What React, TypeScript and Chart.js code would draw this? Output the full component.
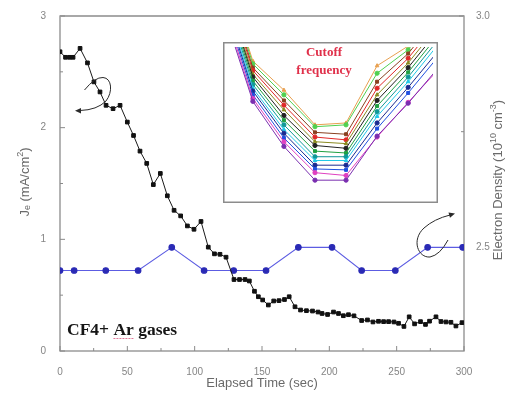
import React, { useEffect, useRef } from 'react';
import { Chart, registerables } from 'chart.js';

Chart.register(...registerables);

// ---- Main chart data ----
const elapsedTimeJ = [0, 4.1, 7.1, 9.7, 14.9, 20.4, 25.2, 29.7, 34.2, 39.4, 44.6, 50.0, 54.6, 59.4, 64.4, 69.3, 74.5, 79.7, 84.7, 89.6, 94.6, 99.5, 104.7, 110.1, 114.7, 118.8, 123.3, 129.2, 133.3, 137.4, 140.6, 144.4, 147.3, 150.5, 154.7, 158.7, 162.6, 166.7, 170.2, 174.5, 178.6, 183.0, 187.5, 191.6, 194.6, 198.7, 203.1, 206.8, 210.4, 214.2, 218.3, 224.0, 228.3, 232.4, 236.5, 240.3, 244.0, 248.0, 251.4, 255.4, 259.3, 263.3, 267.7, 271.4, 274.4, 279.2, 282.9, 286.6, 290.3, 294.0, 298.5];
const currentDensityJe = [2.68, 2.63, 2.63, 2.63, 2.71, 2.58, 2.41, 2.32, 2.20, 2.17, 2.20, 2.05, 1.93, 1.79, 1.68, 1.49, 1.59, 1.39, 1.26, 1.21, 1.12, 1.09, 1.16, 0.93, 0.87, 0.866, 0.84, 0.64, 0.64, 0.64, 0.627, 0.535, 0.486, 0.457, 0.412, 0.448, 0.451, 0.461, 0.486, 0.396, 0.367, 0.361, 0.358, 0.349, 0.336, 0.327, 0.349, 0.336, 0.316, 0.325, 0.315, 0.273, 0.278, 0.26, 0.266, 0.263, 0.263, 0.26, 0.248, 0.22, 0.306, 0.243, 0.263, 0.238, 0.267, 0.306, 0.264, 0.26, 0.257, 0.224, 0.254];

const elapsedTimeNe = [0, 10.5, 34, 58, 83, 107, 129, 153, 177, 202, 224, 249, 273, 299];
const electronDensity = [2.45, 2.45, 2.45, 2.45, 2.5, 2.45, 2.45, 2.45, 2.5, 2.5, 2.45, 2.45, 2.5, 2.5];

const xTickMajor = [0, 50, 100, 150, 200, 250, 300];
const xTickMinor = [25, 75, 125, 175, 225, 275];
const yTickMajor = [0, 1, 2, 3];
const yTickMinor = [0.5, 1.5, 2.5];
const y1TickMajor = [2.5, 3.0];
const y1TickMinor = [2.75];

// ---- Inset data (cutoff frequency curves) ----
const insetColumns = [0, 1, 2, 3, 4, 5, 6, 7];
const insetCurves = [
  [205, 103, 55, 19, 19, 66, 101, 140],
  [210, 106, 60, 27, 24, 65, 102, 138],
  [214, 110, 64, 31, 30, 74, 112, 152],
  [218, 114, 69, 35, 35, 80, 118, 158],
  [222, 117, 73, 40, 40, 87, 124, 165],
  [226, 121, 78, 44, 44, 92, 129, 170],
  [230, 125, 83, 50, 48, 98, 134, 175],
  [233, 129, 88, 56, 53, 104, 139, 180],
  [236, 132, 94, 60, 58, 110, 144, 185],
  [240, 136, 99, 65, 62, 117, 149, 190],
  [243, 139, 104, 70, 68, 124, 154, 195],
  [246, 143, 110, 76, 78, 133, 158, 200],
  [250, 146, 115, 78, 80, 141, 162, 205],
];
const insetColors = ['#7a2fb0', '#e040c0', '#2050e0', '#1a2a90', '#20c8e8', '#109898', '#20a040', '#222222', '#8a8a20', '#e02828', '#8a4020', '#50d050', '#e8a050'];
const insetPointStyles = ['circle', 'circle', 'rect', 'circle', 'triangle', 'circle', 'rect', 'circle', 'triangle', 'circle', 'rect', 'circle', 'triangle'];

const SANS = '"Liberation Sans", Arial, sans-serif';
const SERIF = '"Liberation Serif", "Times New Roman", serif';
const TITLE_COLOR = '#6a6a6a';
const TICK_COLOR = '#858585';
const FRAME_COLOR = '#8c8c8c';

type Part = { t: string; size: number; dy?: number };

function drawRich(ctx: CanvasRenderingContext2D, parts: Part[], cx: number, cy: number) {
  let total = 0;
  for (const p of parts) {
    ctx.font = `${p.size}px ${SANS}`;
    total += ctx.measureText(p.t).width;
  }
  let x = cx - total / 2;
  ctx.textAlign = 'left';
  ctx.textBaseline = 'middle';
  for (const p of parts) {
    ctx.font = `${p.size}px ${SANS}`;
    ctx.fillText(p.t, x, cy + (p.dy || 0));
    x += ctx.measureText(p.t).width;
  }
}

function arrowHead(ctx: CanvasRenderingContext2D, x: number, y: number, angle: number, size: number) {
  ctx.save();
  ctx.translate(x, y);
  ctx.rotate(angle);
  ctx.beginPath();
  ctx.moveTo(0, 0);
  ctx.lineTo(-size, -size * 0.45);
  ctx.lineTo(-size, size * 0.45);
  ctx.closePath();
  ctx.fill();
  ctx.restore();
}

const mainDecor = {
  id: 'mainDecor',
  beforeDatasetsDraw(chart: any) {
    const { ctx, chartArea: a, scales } = chart;
    ctx.save();
    ctx.strokeStyle = FRAME_COLOR;
    ctx.lineWidth = 1.3;
    ctx.strokeRect(a.left, a.top, a.right - a.left, a.bottom - a.top);
    ctx.strokeStyle = '#a8a8a8';
    ctx.lineWidth = 2.2;
    ctx.beginPath();
    ctx.moveTo(a.left, a.top);
    ctx.lineTo(a.right, a.top);
    ctx.stroke();

    ctx.strokeStyle = '#8a8a8a';
    ctx.lineWidth = 1;
    const seg = (x1: number, y1: number, x2: number, y2: number) => {
      ctx.beginPath();
      ctx.moveTo(x1, y1);
      ctx.lineTo(x2, y2);
      ctx.stroke();
    };
    xTickMajor.forEach((v) => { const p = scales.x.getPixelForValue(v); seg(p, a.bottom, p, a.bottom - 5); });
    xTickMinor.forEach((v) => { const p = scales.x.getPixelForValue(v); seg(p, a.bottom, p, a.bottom - 3); });
    yTickMajor.forEach((v) => { const p = scales.y.getPixelForValue(v); seg(a.left, p, a.left + 5, p); });
    yTickMinor.forEach((v) => { const p = scales.y.getPixelForValue(v); seg(a.left, p, a.left + 3, p); });
    y1TickMajor.forEach((v) => { const p = scales.y1.getPixelForValue(v); seg(a.right, p, a.right - 5, p); });
    y1TickMinor.forEach((v) => { const p = scales.y1.getPixelForValue(v); seg(a.right, p, a.right - 3, p); });
    ctx.restore();
  },
  afterDatasetsDraw(chart: any) {
    const { ctx } = chart;
    ctx.save();
    // curved arrow pointing to left axis
    ctx.strokeStyle = '#2a2a2a';
    ctx.fillStyle = '#2a2a2a';
    ctx.lineWidth = 1;
    ctx.beginPath();
    ctx.moveTo(84.5, 90);
    ctx.quadraticCurveTo(95, 77, 103, 77.5);
    ctx.bezierCurveTo(112, 78, 113, 92, 106, 101);
    ctx.quadraticCurveTo(97, 110, 80, 110.5);
    ctx.stroke();
    arrowHead(ctx, 75, 110.7, Math.PI, 6);

    // curved arrow pointing to right axis
    ctx.beginPath();
    ctx.moveTo(448, 240);
    ctx.quadraticCurveTo(440, 255, 430, 257);
    ctx.bezierCurveTo(418, 258, 411, 240, 424, 228);
    ctx.quadraticCurveTo(434, 219, 450, 215);
    ctx.stroke();
    arrowHead(ctx, 455, 213.5, -0.28, 6);

    // annotation text
    ctx.fillStyle = '#151515';
    ctx.font = `bold 17.5px ${SERIF}`;
    ctx.textAlign = 'left';
    ctx.textBaseline = 'alphabetic';
    ctx.fillText('CF4+ Ar gases', 67, 335);
    const w1 = ctx.measureText('CF4+ ').width;
    const w2 = ctx.measureText('CF4+ Ar').width;
    ctx.strokeStyle = '#e07898';
    ctx.lineWidth = 1;
    ctx.setLineDash([2, 1]);
    ctx.beginPath();
    ctx.moveTo(67 + w1, 338.5);
    ctx.lineTo(67 + w2, 338.5);
    ctx.stroke();
    ctx.setLineDash([]);

    // axis titles
    ctx.fillStyle = TITLE_COLOR;
    drawRich(ctx, [{ t: 'Elapsed Time (sec)', size: 13 }], 262, 383);

    ctx.save();
    ctx.translate(25, 182);
    ctx.rotate(-Math.PI / 2);
    drawRich(ctx, [
      { t: 'J', size: 13 },
      { t: 'e', size: 9, dy: 3 },
      { t: ' (mA/cm', size: 13 },
      { t: '2', size: 9, dy: -4 },
      { t: ')', size: 13 },
    ], 0, 0);
    ctx.restore();

    ctx.save();
    ctx.translate(498, 180);
    ctx.rotate(-Math.PI / 2);
    drawRich(ctx, [
      { t: 'Electron Density (10', size: 13 },
      { t: '10', size: 9, dy: -4 },
      { t: ' cm', size: 13 },
      { t: '-3', size: 9, dy: -4 },
      { t: ')', size: 13 },
    ], 0, 0);
    ctx.restore();

    ctx.restore();
  },
};

const insetDecor = {
  id: 'insetDecor',
  afterDraw(chart: any) {
    const { ctx, width, height } = chart;
    ctx.save();
    ctx.strokeStyle = FRAME_COLOR;
    ctx.lineWidth = 1.5;
    ctx.strokeRect(0.75, 0.75, width - 1.5, height - 1.5);
    ctx.fillStyle = '#e0304a';
    ctx.font = `bold 13px ${SERIF}`;
    ctx.textAlign = 'center';
    ctx.textBaseline = 'middle';
    ctx.fillText('Cutoff', 101, 11);
    ctx.fillText('frequency', 101, 29);
    ctx.restore();
  },
};

function MainChart() {
  const ref = useRef<HTMLCanvasElement>(null);
  useEffect(() => {
    if (!ref.current) return;
    const tickFont = { size: 10, family: SANS };
    const chart = new Chart(ref.current, {
      type: 'line',
      data: {
        datasets: [
          {
            label: 'Electron density',
            data: elapsedTimeNe.map((x, i) => ({ x, y: electronDensity[i] })),
            yAxisID: 'y1',
            borderColor: '#5c5ce2',
            backgroundColor: '#2a2ab5',
            pointBackgroundColor: '#2a2ab5',
            pointBorderColor: '#2a2ab5',
            borderWidth: 1.1,
            pointRadius: 2.8,
            pointStyle: 'circle',
            tension: 0,
            order: 2,
          },
          {
            label: 'Je',
            data: elapsedTimeJ.map((x, i) => ({ x, y: currentDensityJe[i] })),
            yAxisID: 'y',
            borderColor: '#1a1a1a',
            backgroundColor: '#111111',
            pointBackgroundColor: '#111111',
            pointBorderColor: '#111111',
            borderWidth: 1,
            pointRadius: 2.6,
            pointStyle: 'rect',
            tension: 0,
            order: 1,
          },
        ],
      },
      options: {
        responsive: false,
        animation: false,
        devicePixelRatio: 1,
        layout: { padding: { top: 16, left: 0, right: 0, bottom: 0 } },
        plugins: { legend: { display: false }, tooltip: { enabled: false } },
        scales: {
          x: {
            type: 'linear',
            min: 0,
            max: 300,
            ticks: { stepSize: 50, color: TICK_COLOR, font: tickFont, padding: 7, maxRotation: 0 },
            grid: { display: false },
            border: { display: false },
            afterFit: (s: any) => { s.height = 43; },
          },
          y: {
            type: 'linear',
            position: 'left',
            min: 0,
            max: 3,
            ticks: { stepSize: 1, color: TICK_COLOR, font: tickFont, padding: 6 },
            grid: { display: false },
            border: { display: false },
            afterFit: (s: any) => { s.width = 60; },
          },
          y1: {
            type: 'linear',
            position: 'right',
            min: 2.276,
            max: 3.0,
            afterBuildTicks: (s: any) => { s.ticks = y1TickMajor.map((v) => ({ value: v })); },
            ticks: { color: TICK_COLOR, font: tickFont, padding: 4, callback: (v: any) => Number(v).toFixed(1) },
            grid: { display: false },
            border: { display: false },
            afterFit: (s: any) => { s.width = 46; },
          },
        },
      } as any,
      plugins: [mainDecor],
    });
    return () => chart.destroy();
  }, []);
  return <canvas ref={ref} width={510} height={394} style={{ position: 'absolute', left: 0, top: 0 }} />;
}

function InsetChart() {
  const ref = useRef<HTMLCanvasElement>(null);
  useEffect(() => {
    if (!ref.current) return;
    const chart = new Chart(ref.current, {
      type: 'line',
      data: {
        datasets: insetCurves.map((curve, k) => ({
          label: `curve ${k + 1}`,
          data: insetColumns.map((x, i) => ({ x, y: curve[i] })),
          borderColor: insetColors[k],
          backgroundColor: insetColors[k],
          pointBackgroundColor: insetColors[k],
          pointBorderColor: insetColors[k],
          borderWidth: 1,
          pointRadius: 2.1,
          pointStyle: insetPointStyles[k],
          tension: 0,
        })),
      },
      options: {
        responsive: false,
        animation: false,
        devicePixelRatio: 1,
        layout: { padding: 0 },
        plugins: { legend: { display: false }, tooltip: { enabled: false } },
        scales: {
          x: { type: 'linear', min: 0.2, max: 6.8, display: false },
          y: { type: 'linear', min: 0, max: 161, display: false },
        },
      } as any,
      plugins: [insetDecor],
    });
    return () => chart.destroy();
  }, []);
  return (
    <canvas
      ref={ref}
      width={215}
      height={161}
      style={{ position: 'absolute', left: 223, top: 42, background: '#ffffff' }}
    />
  );
}

export default function App() {
  return (
    <div style={{ position: 'absolute', left: 0, top: 0, width: 510, height: 394, background: '#ffffff', overflow: 'hidden' }}>
      <MainChart />
      <InsetChart />
    </div>
  );
}
